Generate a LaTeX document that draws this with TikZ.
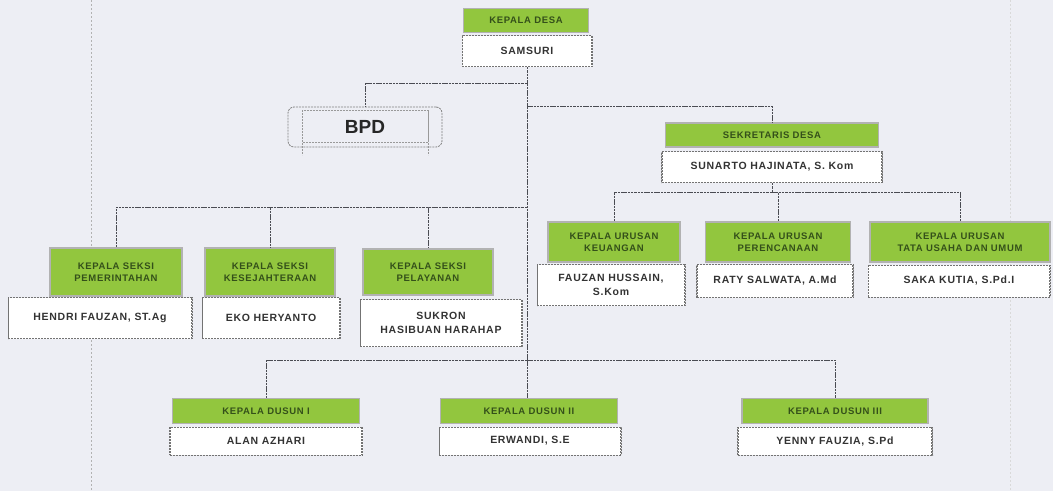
\documentclass[tikz,border=0pt]{standalone}
\usepackage{fontspec}
\setsansfont{Liberation Sans}
\newfontfamily\hdrfont{Liberation Sans}[LetterSpace=7]
\newfontfamily\namefont{Liberation Sans}[LetterSpace=7]
\definecolor{bgcol}{HTML}{EDEEF4}
\definecolor{hgreen}{HTML}{92C63E}
\definecolor{htext}{HTML}{34501A}
\definecolor{lncol}{HTML}{4A4B52}
\tikzset{
  hdr/.style={fill=hgreen, draw=black!30, line width=1.6pt, inner sep=0pt,
    align=center, text=htext, font=\hdrfont\bfseries\fontsize{9.5}{11.5}\selectfont},
  namebox/.style={fill=white, draw=black!55, line width=0.8pt, dash pattern=on 2pt off 1pt,
    inner sep=0pt, align=center, text=black!80, font=\namefont\bfseries\fontsize{10.5}{14}\selectfont,
    path picture={\draw[line width=2.4pt, draw=black!55]
      (path picture bounding box.north west) -- (path picture bounding box.south west)
      (path picture bounding box.north east) -- (path picture bounding box.south east);}},
  conn/.style={draw=lncol, line width=1pt, dash pattern=on 2.5pt off 0.8pt},
  faint/.style={draw=black!30, line width=0.7pt, dash pattern=on 2pt off 2pt}
}
\begin{document}
\begin{tikzpicture}[x=1pt,y=-1pt]
\fill[bgcol] (0,0) rectangle (1053,491);
\useasboundingbox (0,0) rectangle (1053,491);
% faint page lines
\coordinate (fl1) at (91,0); \coordinate (fl2) at (91,491);
\coordinate (fr1) at (1010,0); \coordinate (fr2) at (1010,491);
\draw[faint] (fl1) -- (fl2);
\draw[faint, draw=black!15] (fr1) -- (fr2);

% trunk coordinates
\coordinate (tA) at (527,83);
\coordinate (tB) at (527,106);
\coordinate (tC) at (527,207);
\coordinate (tD) at (527,360);
\coordinate (busR) at (772,192);

% top
\node[hdr, minimum width=125pt, minimum height=24pt] (kdh) at (526,20.5) {KEPALA DESA};
\node[namebox, minimum width=130pt, minimum height=31pt] (kdn) at (527,51) {SAMSURI};

% BPD
\node[draw=black!50, line width=0.8pt, dash pattern=on 2pt off 1pt, rounded corners=6pt,
  minimum width=154pt, minimum height=40pt, inner sep=0pt,
  font=\sffamily\bfseries\fontsize{19}{22}\selectfont, text=black!85] (bpd) at (365,127) {BPD};
\coordinate (bi1) at (302,110); \coordinate (bi2) at (428,142);
\coordinate (bv1) at (302,155); \coordinate (bv2) at (428,155);
\draw[draw=black!40, line width=0.6pt, dash pattern=on 2pt off 1pt] (bi1) rectangle (bi2);
\draw[draw=black!40, line width=0.6pt, dash pattern=on 2pt off 1pt] (bi1) -- (bv1);
\draw[draw=black!40, line width=0.6pt, dash pattern=on 2pt off 1pt] (bi2 |- bi1) -- (bv2);

% sekretaris
\node[hdr, minimum width=213pt, minimum height=24pt] (skh) at (772,135) {SEKRETARIS DESA};
\node[namebox, minimum width=221pt, minimum height=31pt] (skn) at (772,167) {SUNARTO HAJINATA, S. Kom};

% kaur row
\node[hdr, minimum width=132pt, minimum height=40pt] (kuh) at (614,242) {KEPALA URUSAN\\KEUANGAN};
\node[namebox, minimum width=148pt, minimum height=41pt] (kun) at (611,285) {FAUZAN HUSSAIN,\\S.Kom};
\node[hdr, minimum width=145pt, minimum height=40pt] (kph) at (778,242) {KEPALA URUSAN\\PERENCANAAN};
\node[namebox, minimum width=157pt, minimum height=33pt] (kpn) at (775,281) {RATY SALWATA, A.Md};
\node[hdr, minimum width=180pt, minimum height=40pt] (kth) at (960,242) {KEPALA URUSAN\\TATA USAHA DAN UMUM};
\node[namebox, minimum width=182pt, minimum height=32pt] (ktn) at (959,281) {SAKA KUTIA, S.Pd.I};

% kasi row
\node[hdr, minimum width=132pt, minimum height=48pt] (psh) at (116,272) {KEPALA SEKSI\\PEMERINTAHAN};
\node[namebox, minimum width=184pt, minimum height=41pt] (psn) at (100,318) {HENDRI FAUZAN, ST.Ag};
\node[hdr, minimum width=130pt, minimum height=48pt] (ksh) at (270,272) {KEPALA SEKSI\\KESEJAHTERAAN};
\node[namebox, minimum width=138pt, minimum height=41pt] (ksn) at (271,318) {EKO HERYANTO};
\node[hdr, minimum width=130pt, minimum height=46pt] (plh) at (428,272) {KEPALA SEKSI\\PELAYANAN};
\node[namebox, minimum width=162pt, minimum height=47pt] (pln) at (441,323) {SUKRON\\HASIBUAN HARAHAP};

% dusun row
\node[hdr, minimum width=187pt, minimum height=25pt] (d1h) at (266,411) {KEPALA DUSUN I};
\node[namebox, minimum width=193pt, minimum height=28pt] (d1n) at (266,441) {ALAN AZHARI};
\node[hdr, minimum width=177pt, minimum height=25pt] (d2h) at (529,411) {KEPALA DUSUN II};
\node[namebox, minimum width=182pt, minimum height=28pt] (d2n) at (530,441) {ERWANDI, S.E};
\node[hdr, minimum width=186pt, minimum height=25pt] (d3h) at (835,411) {KEPALA DUSUN III};
\node[namebox, minimum width=195pt, minimum height=28pt] (d3n) at (835,441) {YENNY FAUZIA, S.Pd};

% connectors
\draw[conn] (kdn.south) -- (tD);
\draw[conn] (tD) -- (d2h.north -| tD);
\draw[conn] (tA) -| (bpd.north);
\draw[conn] (tB) -| (skh.north);
\draw[conn] (skn.south) -- (busR);
\draw[conn] (busR) -| (kuh.north);
\draw[conn] (busR) -| (kph.north);
\draw[conn] (busR) -| (kth.north);
\draw[conn] (tC) -| (psh.north);
\draw[conn] (tC) -| (ksh.north);
\draw[conn] (tC) -| (plh.north);
\draw[conn] (tD) -| (d1h.north);
\draw[conn] (tD) -| (d3h.north);
\end{tikzpicture}
\end{document}
